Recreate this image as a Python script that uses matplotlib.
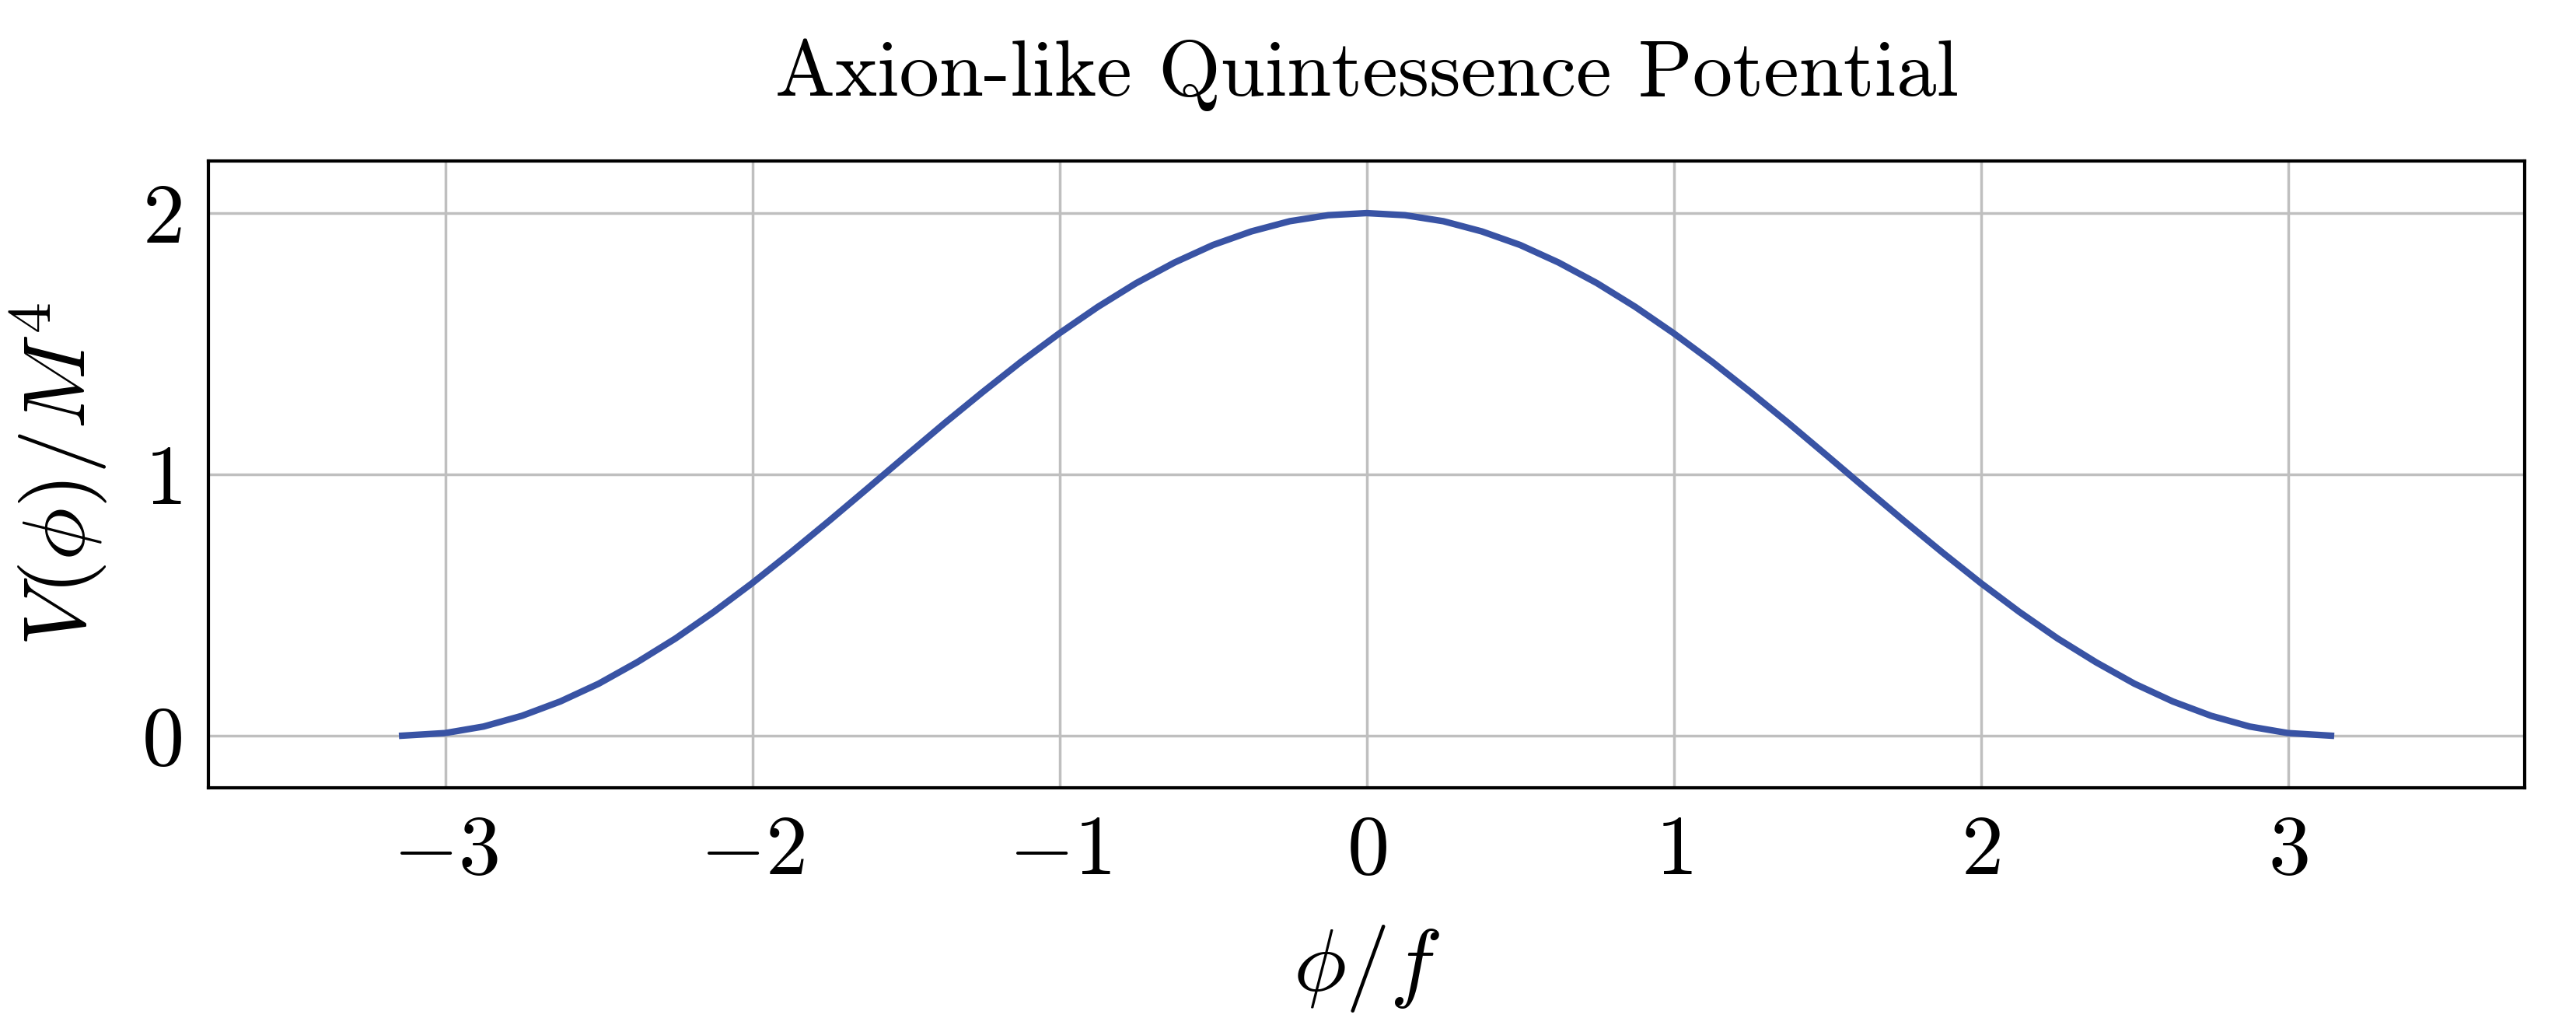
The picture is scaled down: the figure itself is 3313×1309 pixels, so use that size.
import matplotlib.pyplot as plt

# values
phi = [-3.14, -3.0, -2.875, -2.75, -2.625, -2.5, -2.375, -2.25, -2.125, -2.0, -1.875, -1.75, -1.625,
       -1.5, -1.375, -1.25, -1.125, -1.0, -0.875, -0.75, -0.625, -0.5, -0.375, -0.25, -0.125, 0.0,
       0.125, 0.25, 0.375, 0.5, 0.625, 0.75, 0.875, 1.0, 1.125, 1.25, 1.375, 1.5, 1.625, 1.75,
       1.875, 2.0, 2.125, 2.25, 2.375, 2.5, 2.625, 2.75, 2.875, 3.0, 3.14]
V = [0.0, 0.010, 0.035, 0.076, 0.131, 0.199, 0.281, 0.372, 0.474, 0.584, 0.701, 0.822, 0.946,
     1.071, 1.195, 1.315, 1.431, 1.540, 1.641, 1.732, 1.811, 1.878, 1.930, 1.969, 1.992, 2.0,
     1.992, 1.969, 1.930, 1.878, 1.811, 1.732, 1.641, 1.540, 1.431, 1.315, 1.195, 1.071, 0.946, 0.822,
     0.701, 0.584, 0.474, 0.372, 0.281, 0.199, 0.131, 0.076, 0.035, 0.010, 0.0]
xticks = [-3, -2, -1, 0, 1, 2, 3]
yticks = [0, 1, 2]

plt.rcParams['font.family'] = 'serif'
plt.rcParams['font.serif'] = ['cmr10']
plt.rcParams['mathtext.fontset'] = 'cm'
plt.rcParams['axes.formatter.use_mathtext'] = True

fig = plt.figure(figsize=(33.13, 13.09), dpi=100)
ax = fig.add_axes([0.081, 0.226, 0.899, 0.616])
ax.plot(phi, V, color='#3953a4', linewidth=6, zorder=3)
ax.set_xlim(-3.77, 3.77)
ax.set_ylim(-0.2, 2.2)
ax.set_xticks(xticks)
ax.set_yticks(yticks)
ax.grid(True, color='#bfbfbf', linewidth=2.5)
for s in ax.spines.values():
    s.set_linewidth(3)
ax.tick_params(labelsize=78, length=0, pad=25)
ax.set_xlabel(r'$\phi/f$', fontsize=82, labelpad=30)
ax.set_ylabel(r'$V(\phi)/M^4$', fontsize=82, labelpad=30)
ax.set_title('Axion-like Quintessence Potential', fontsize=74, pad=60)
fig.savefig('out.png', dpi=100)
